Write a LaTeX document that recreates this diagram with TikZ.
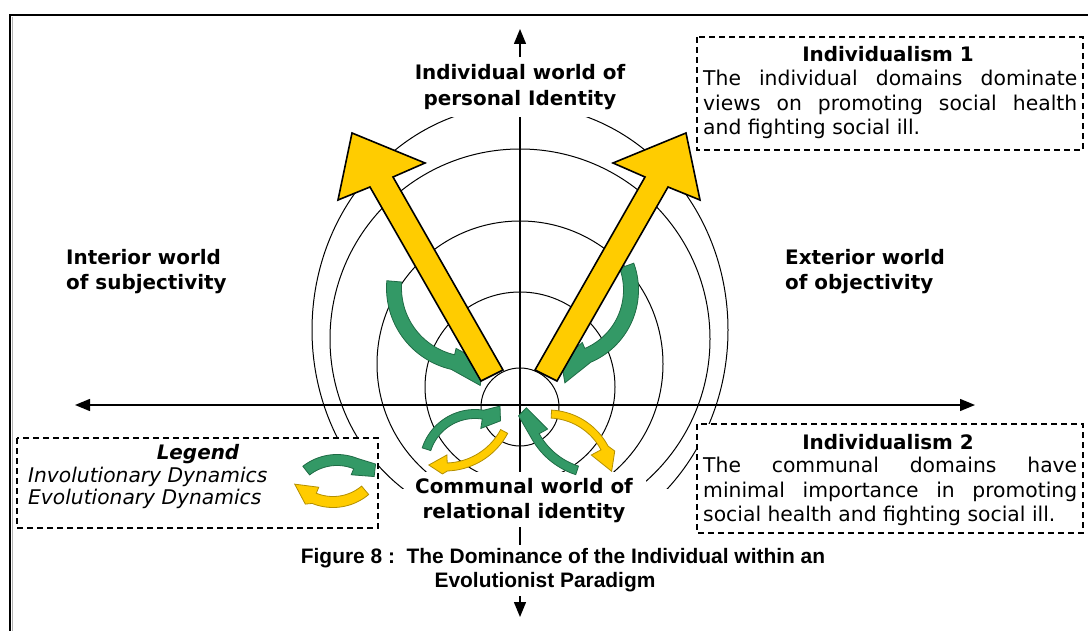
\documentclass[tikz,border=0pt]{standalone}
\usepackage{fontspec}
\setmainfont{DejaVu Sans}[BoldFont={DejaVu Sans Bold},ItalicFont={DejaVu Sans Oblique},BoldItalicFont={DejaVu Sans Bold Oblique}]
\newfontfamily\capfont{Liberation Sans}
\usetikzlibrary{arrows.meta}
\definecolor{ygold}{HTML}{FFCC00}
\definecolor{ggreen}{HTML}{339966}
\definecolor{gdark}{HTML}{1F6B45}
\definecolor{ydark}{HTML}{B38F00}
% curved arrow settings: {body half width}{inner barb}{outer barb}{outer barb angle}
\newcommand{\cset}[4]{\def\cw{#1}\def\chwi{#2}\def\chwo{#3}\def\cbo{#4}}
% curved arrow: {center}{R}{tail angle}{body end angle}{tip angle}{style}
\newcommand{\carrow}[6]{%
  \filldraw[#6, shift={#1}]
    plot[domain=#3:#4, samples=40, variable=\t] ({(#2+\cw)*cos(\t)},{(#2+\cw)*sin(\t)})
    -- ({\cbo}:{#2+\chwo}) -- ({#5}:{#2}) -- ({#4}:{#2-\chwi}) --
    plot[domain=#4:#3, samples=40, variable=\t] ({(#2-\cw)*cos(\t)},{(#2-\cw)*sin(\t)})
    -- cycle;}
\begin{document}
\begin{tikzpicture}[x=1bp,y=-1bp,
  lbl/.style={font=\fontsize{20}{24}\selectfont\bfseries, anchor=base, inner sep=0pt},
  lblw/.style={font=\fontsize{20}{24}\selectfont\bfseries, anchor=base west, inner sep=0pt},
  txt/.style={font=\fontsize{20.4}{24}\selectfont, anchor=base west, inner sep=0pt},
  itxt/.style={font=\fontsize{20.3}{24}\selectfont\itshape, anchor=base west, inner sep=0pt},
  captext/.style={font=\capfont\bfseries\fontsize{21}{24}\selectfont, anchor=base, inner sep=0pt},
  dashbox/.style={draw, fill=white, line width=1.1bp, dash pattern=on 6bp off 4bp},
  circ/.style={line width=1bp},
  axis/.style={line width=1.4bp, {Triangle[length=15bp,width=12bp]}-{Triangle[length=15bp,width=12bp]}},
  bigarrow/.style={fill=ygold, draw=black, line width=1.6bp, line join=miter},
  garrow/.style={fill=ggreen, draw=gdark, line width=0.8bp},
  yarrow/.style={fill=ygold, draw=ydark, line width=0.8bp}]
\useasboundingbox (0,0) rectangle (1088,631);
% frame
\draw[line width=2.2bp] (10,633) -- (10,15) -- (1090,15);
\draw[gray!60, line width=1bp] (12.6,633) -- (12.6,17.2);
% concentric rings
\begin{scope}
  \clip (0,0) rectangle (1088,488);
  \draw[circ] (520,407) circle[radius=39bp];
  \draw[circ] (520,387) circle[radius=95bp];
  \draw[circ] (520,364) circle[radius=143bp];
  \draw[circ] (520,339) circle[radius=190bp];
  \draw[circ] (520,330) ellipse[x radius=208bp, y radius=225bp];
\end{scope}
% axes
\coordinate (hl) at (75,405);
\coordinate (hr) at (975,405);
\coordinate (vt) at (520,29);
\coordinate (vb) at (520,617);
\draw[axis] (hl) -- (hr);
\draw[axis] (vt) -- (vb);
% label backgrounds
\fill[white] (405,57) rectangle (635,117);
\fill[white] (404,472) rectangle (646,527);
\fill[white] (290,545) rectangle (840,596);
% axis labels
\node[lbl] (t1) at (520,80) {Individual world of};
\node[lbl] (t2) at (520,106) {personal Identity};
\node[lblw] (l1) at (66,265) {Interior world};
\node[lblw] (l2) at (66,290) {of subjectivity};
\node[lblw] (r1) at (785,265) {Exterior world};
\node[lblw] (r2) at (785,290) {of objectivity};
\node[lbl] (b1) at (524,493) {Communal world of};
\node[lbl] (b2) at (524,518) {relational identity};
% boxes
\draw[dashbox] (697,37) rectangle (1083,150);
\node[lbl] (i1t) at (888,62) {Individualism 1};
\node[txt] (i1a) at (703,86) {\makebox[374bp][s]{The individual domains dominate}};
\node[txt] (i1b) at (703,111) {\makebox[374bp][s]{views on promoting social health}};
\node[txt] (i1c) at (703,135) {and fighting social ill.};
\draw[dashbox] (697,424) rectangle (1083,533);
\node[lbl] (i2t) at (888,449) {Individualism 2};
\node[txt] (i2a) at (703,472) {\makebox[374bp][s]{The communal domains have}};
\node[txt] (i2b) at (703,497) {\makebox[374bp][s]{minimal importance in promoting}};
\node[txt] (i2c) at (703,521) {social health and fighting social ill.};
\draw[dashbox] (17,438) rectangle (378,528);
\node[lbl, font=\fontsize{20}{24}\selectfont\bfseries\itshape] (lg) at (198,459) {Legend};
\node[itxt] (lg1) at (28,482) {Involutionary Dynamics};
\node[itxt] (lg2) at (28,504) {Evolutionary Dynamics};
% caption
\node[captext] (c1) at (563,563) {Figure 8 :\ \ The Dominance of the Individual within an};
\node[captext] (c2) at (545,587) {Evolutionist Paradigm};
% upper green dynamics
\cset{7.5}{14}{22}{84}\carrow{(470,288)}{76}{185}{103}{80}{garrow}
\cset{7.5}{14}{22}{87}\carrow{(560,290)}{71}{-20}{67}{89}{garrow}
% big yellow arrows
\filldraw[bigarrow] (481,381) -- (503,370) -- (393,177) -- (425,163) -- (352,133) -- (338,200) -- (370,187) -- cycle;
\filldraw[bigarrow] (557,381) -- (535,370) -- (645,177) -- (613,163) -- (686,133) -- (700,200) -- (668,187) -- cycle;
% lower dynamics
\cset{4.5}{14}{13}{293}\carrow{(475,465)}{51}{198}{279}{300}{garrow}
\cset{4}{12}{7}{92}\carrow{(445,400)}{67}{28}{88}{104}{yarrow}
\cset{4.5}{14}{9}{169}\carrow{(600,400)}{74}{108}{151}{174}{garrow}
\cset{4}{15}{8}{-22}\carrow{(548,478)}{64}{-87}{-28}{-6}{yarrow}
% legend icons
\cset{5.5}{12}{10}{310}\carrow{(337,510)}{50}{232}{292}{318}{garrow}
\cset{5.5}{12}{9}{118}\carrow{(333,452)}{50}{50}{112}{140}{yarrow}
\end{tikzpicture}
\end{document}
